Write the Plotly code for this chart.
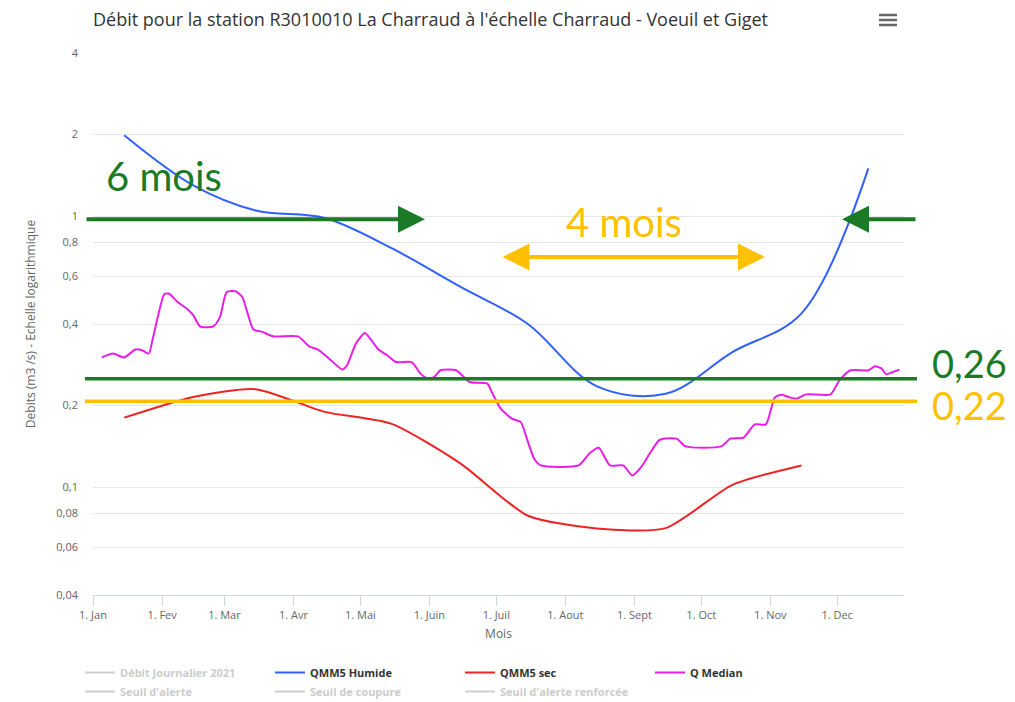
import plotly.graph_objects as go

# ---------------- data ----------------
title_text = "Débit pour la station R3010010 La Charraud à l'échelle Charraud - Voeuil et Giget"

month_ticks = ["2021-01-01", "2021-02-01", "2021-03-01", "2021-04-01", "2021-05-01", "2021-06-01",
               "2021-07-01", "2021-08-01", "2021-09-01", "2021-10-01", "2021-11-01", "2021-12-01"]
month_labels = ["1. Jan", "1. Fev", "1. Mar", "1. Avr", "1. Mai", "1. Juin",
                "1. Juil", "1. Aout", "1. Sept", "1. Oct", "1. Nov", "1. Dec"]

humide_dates = ["2021-01-15", "2021-02-15", "2021-03-15", "2021-04-15", "2021-05-15", "2021-06-15",
                "2021-07-15", "2021-08-15", "2021-09-15", "2021-10-15", "2021-11-15", "2021-12-15"]
qmm5_humide = [1.99, 1.30, 1.05, 0.985, 0.762, 0.548, 0.401, 0.236, 0.221, 0.315, 0.438, 1.50]

sec_dates = ["2021-01-15", "2021-02-15", "2021-03-15", "2021-04-15", "2021-05-15", "2021-06-15",
             "2021-07-15", "2021-08-15", "2021-09-15", "2021-10-15", "2021-11-15"]
qmm5_sec = [0.1805, 0.2153, 0.230, 0.1896, 0.1712, 0.1222, 0.0786, 0.0704, 0.0706, 0.102, 0.1203]

median_dates = ["2021-01-05", "2021-01-10", "2021-01-15", "2021-01-20", "2021-01-23", "2021-01-26",
                "2021-01-28", "2021-02-02", "2021-02-04", "2021-02-08", "2021-02-12", "2021-02-15",
                "2021-02-18", "2021-02-24", "2021-02-27", "2021-03-02", "2021-03-06", "2021-03-09",
                "2021-03-11", "2021-03-14", "2021-03-18", "2021-03-23", "2021-04-03", "2021-04-08",
                "2021-04-12", "2021-04-17", "2021-04-23", "2021-04-25", "2021-04-29", "2021-05-03",
                "2021-05-06", "2021-05-09", "2021-05-13", "2021-05-17", "2021-05-24", "2021-05-28",
                "2021-05-31", "2021-06-03", "2021-06-06", "2021-06-13", "2021-06-19", "2021-06-27",
                "2021-06-29", "2021-07-03", "2021-07-08", "2021-07-12", "2021-07-15", "2021-07-18",
                "2021-07-21", "2021-08-07", "2021-08-12", "2021-08-16", "2021-08-21", "2021-08-27",
                "2021-08-31", "2021-09-04", "2021-09-08", "2021-09-12", "2021-09-14", "2021-09-20",
                "2021-09-24", "2021-10-10", "2021-10-14", "2021-10-20", "2021-10-25", "2021-10-30",
                "2021-11-03", "2021-11-06", "2021-11-10", "2021-11-13", "2021-11-17", "2021-11-28",
                "2021-12-02", "2021-12-07", "2021-12-15", "2021-12-18", "2021-12-21", "2021-12-23",
                "2021-12-26", "2021-12-29"]
q_median = [0.301, 0.311, 0.301, 0.322, 0.320, 0.311,
            0.358, 0.515, 0.518, 0.482, 0.456, 0.431,
            0.392, 0.392, 0.425, 0.525, 0.528, 0.503,
            0.449, 0.382, 0.374, 0.360, 0.360, 0.331,
            0.322, 0.298, 0.2715, 0.2816, 0.3386, 0.3706,
            0.348, 0.3226, 0.3066, 0.2895, 0.2895, 0.2624,
            0.2527, 0.2548, 0.270, 0.270, 0.2443, 0.241,
            0.2244, 0.1949, 0.1789, 0.1738, 0.1488, 0.1273,
            0.1203, 0.1203, 0.1336, 0.1398, 0.1203, 0.1203,
            0.1105, 0.1186, 0.1336, 0.1488, 0.1510, 0.1510,
            0.1414, 0.1414, 0.151, 0.1523, 0.1705, 0.1705,
            0.2140, 0.2195, 0.214, 0.2122, 0.220, 0.220,
            0.2478, 0.270, 0.270, 0.2792, 0.2738, 0.2608,
            0.266, 0.2715]

y_tickvals = [4, 2, 1, 0.8, 0.6, 0.4, 0.2, 0.1, 0.08, 0.06, 0.04]
y_ticktext = ["4", "2", "1", "0,8", "0,6", "0,4", "0,2", "0,1", "0,08", "0,06", "0,04"]

# threshold lines as drawn on the picture, with their labels
seuil_vert, seuil_jaune = 0.2514, 0.2073
label_vert, label_jaune = "0,26", "0,22"

hidden_series = ["Débit Journalier 2021"]
hidden_series_row2 = ["Seuil d'alerte", "Seuil de coupure", "Seuil d'alerte renforcée"]

# ---------------- styles ----------------
GREEN = "#1a7a26"
YELLOW = "#ffc000"
BLUE = "#3060ff"
RED = "#ee2222"
MAGENTA = "#e81ee8"
GREY_TXT = "#666666"
FONT = "Open Sans"
ANN_FONT = "Lato"

# page body adds an 8px offset: screen pixel = figure pixel + OFF
OFF = 8
W, H = 1015 - OFF, 702 - OFF
SL, ST, SR, SB = 93, 53, 904, 595          # plot area in screen pixels
L, T = SL - OFF, ST - OFF
R, B = W - (SR - OFF), H - (SB - OFF)
PW, PH = SR - SL, SB - ST

def px(x):   # screen x -> paper
    return (x - SL) / PW

def py(y):   # screen y -> paper
    return (SB - y) / PH

fig = go.Figure()

def hidden_trace(name):
    return go.Scatter(x=[None], y=[None], mode="lines", name=f"<span style='color:#cccccc'>{name}</span>",
                      line=dict(color="#cccccc", width=2), hoverinfo="skip")

for n in hidden_series:
    fig.add_trace(hidden_trace(n))

fig.add_trace(go.Scatter(x=humide_dates, y=qmm5_humide, mode="lines", name="QMM5 Humide",
                         line=dict(color=BLUE, width=2, shape="spline", smoothing=1.0)))
fig.add_trace(go.Scatter(x=sec_dates, y=qmm5_sec, mode="lines", name="QMM5 sec",
                         line=dict(color=RED, width=2, shape="spline", smoothing=0.65)))
fig.add_trace(go.Scatter(x=median_dates, y=q_median, mode="lines", name="Q Median",
                         line=dict(color=MAGENTA, width=2, shape="spline", smoothing=0.6)))

for n in hidden_series_row2:
    fig.add_trace(hidden_trace(n))

shapes = [
    dict(type="line", xref="paper", yref="y", x0=px(85), x1=px(917), y0=seuil_vert, y1=seuil_vert,
         line=dict(color=GREEN, width=3.5), layer="above"),
    dict(type="line", xref="paper", yref="y", x0=px(85), x1=px(917), y0=seuil_jaune, y1=seuil_jaune,
         line=dict(color=YELLOW, width=3.5), layer="above"),
]
# hamburger menu icon
for yy in (15, 20, 25):
    shapes.append(dict(type="line", xref="paper", yref="paper", x0=px(879), x1=px(897), y0=py(yy), y1=py(yy),
                       line=dict(color="#666666", width=2.5)))

annotations = [
    # arrows
    dict(xref="paper", yref="paper", x=px(425), y=py(219.3), ax=-340, ay=0, axref="pixel", ayref="pixel",
         text="", showarrow=True, arrowhead=2, arrowsize=1.35, arrowwidth=4, arrowcolor=GREEN, standoff=0),
    dict(xref="paper", yref="paper", x=px(842), y=py(219.3), ax=75, ay=0, axref="pixel", ayref="pixel",
         text="", showarrow=True, arrowhead=2, arrowsize=1.35, arrowwidth=4, arrowcolor=GREEN, standoff=0),
    dict(xref="paper", yref="paper", x=px(765), y=py(257), ax=-264, ay=0, axref="pixel", ayref="pixel",
         text="", showarrow=True, arrowhead=2, arrowsize=1.35, arrowwidth=4, arrowcolor=YELLOW,
         arrowside="end+start", startarrowhead=2, startarrowsize=1.35, standoff=0, startstandoff=0),
    # texts
    dict(xref="paper", yref="paper", x=px(163.5), y=py(176), text="6 mois", showarrow=False,
         font=dict(family=ANN_FONT, size=40, color=GREEN), xanchor="center", yanchor="middle"),
    dict(xref="paper", yref="paper", x=px(624), y=py(222), text="4 mois", showarrow=False,
         font=dict(family=ANN_FONT, size=40, color=YELLOW), xanchor="center", yanchor="middle"),
    dict(xref="paper", yref="paper", x=px(1009), y=py(363), text=label_vert, showarrow=False,
         font=dict(family=ANN_FONT, size=38, color=GREEN), xanchor="right", yanchor="middle"),
    dict(xref="paper", yref="paper", x=px(1009), y=py(405), text=label_jaune, showarrow=False,
         font=dict(family=ANN_FONT, size=38, color=YELLOW), xanchor="right", yanchor="middle"),
]

fig.update_layout(
    width=W, height=H,
    margin=dict(l=L, r=R, t=T, b=B, autoexpand=False),
    paper_bgcolor="white", plot_bgcolor="white",
    font=dict(family=FONT, color=GREY_TXT),
    title=dict(text=title_text, x=px(93), xref="paper", xanchor="left", y=1 - (19.5 - OFF) / H, yref="container",
               yanchor="middle", font=dict(family=FONT, size=18, color="#333333")),
    showlegend=True,
    legend=dict(orientation="h", xref="container", x=(80 - OFF) / W, xanchor="left",
                yref="container", y=1 - (658 - OFF) / H, yanchor="top",
                entrywidth=145, entrywidthmode="pixels", itemwidth=30,
                font=dict(family=FONT, size=11, color="#333333", weight="bold"),
                bgcolor="rgba(0,0,0,0)", tracegroupgap=0),
    shapes=shapes,
    annotations=annotations,
    separators=",.",
)

fig.update_xaxes(
    type="date", range=["2021-01-01", "2021-12-31"], automargin=False,
    tickvals=month_ticks, ticktext=month_labels,
    showgrid=False, showline=True, linecolor="#ccd6eb", linewidth=1,
    ticks="outside", ticklen=10, tickcolor="#ccd6eb",
    tickfont=dict(family=FONT, size=11, color=GREY_TXT),
    title=dict(text="Mois", font=dict(family=FONT, size=12, color=GREY_TXT), standoff=8),
    zeroline=False,
)
fig.update_yaxes(
    type="log", range=[-1.39794, 0.60206], automargin=False,
    tickvals=y_tickvals, ticktext=y_ticktext,
    showgrid=True, gridcolor="#e6e6e6", gridwidth=1,
    showline=False, ticks="", ticklabelstandoff=14,
    tickfont=dict(family=FONT, size=11, color=GREY_TXT),
    title=dict(text="Debits (m3 /s) - Echelle logarithmique", font=dict(family=FONT, size=12, color=GREY_TXT),
               standoff=18),
    zeroline=False,
)

fig.write_html("out.html", config={"displayModeBar": False})
